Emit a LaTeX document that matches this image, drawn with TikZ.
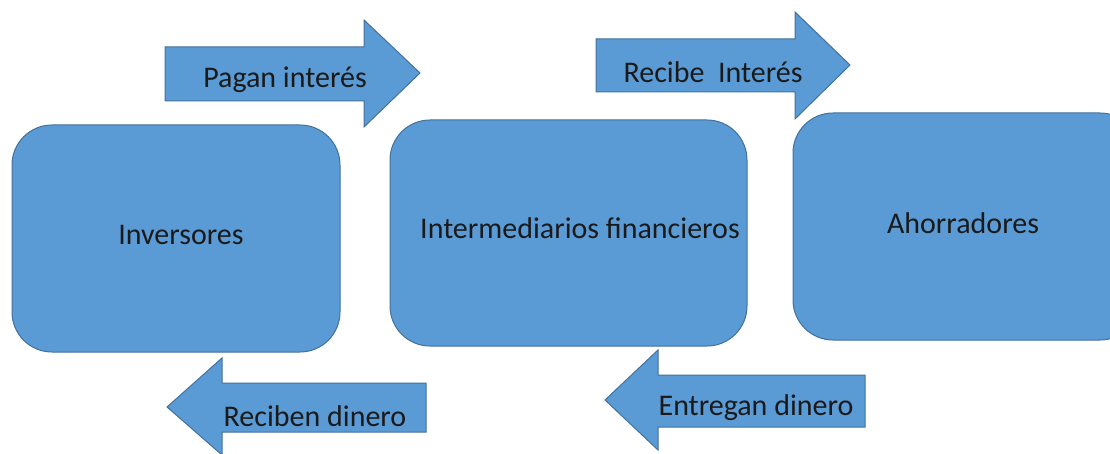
\documentclass[tikz,border=0pt]{standalone}
\usepackage{fontspec}
\setmainfont{Carlito}
\usepackage{xcolor}
\definecolor{cajaazul}{HTML}{5B9BD5}
\definecolor{bordeazul}{HTML}{41719C}
\definecolor{texto}{HTML}{1A1A1A}

\begin{document}
\begin{tikzpicture}[x=1pt,y=-1pt]
\tikzset{caja/.style={draw=bordeazul,fill=cajaazul,line width=1pt,rounded corners=40pt}}
\tikzset{flecha/.style={draw=bordeazul,fill=cajaazul,line width=1pt,line join=miter}}
\tikzset{etiqueta/.style={text=texto,font=\fontsize{30}{36}\selectfont,inner sep=0pt}}

\useasboundingbox (0,0) rectangle (1110,454);

% cajas
\draw[caja] (12,125) rectangle (340,352);
\draw[caja] (390,120) rectangle (747,346);
\draw[caja] (793,113) rectangle (1140,340);
\node[etiqueta] (inversores) at (181,235) {Inversores};
\node[etiqueta] (intermediarios) at (580,228) {Intermediarios financieros};
\node[etiqueta] (ahorradores) at (963,223) {Ahorradores};

% flechas de arriba
\draw[flecha] (165,47) -- (364,47) -- (364,20) -- (420,73) -- (364,127) -- (364,101) -- (165,101) -- cycle;
\draw[flecha] (596,39) -- (795,39) -- (795,12) -- (850,65) -- (795,119) -- (795,92) -- (596,92) -- cycle;
\node[etiqueta] (pagan) at (285,80) {Pagan interés};
\node[etiqueta] (recibe) at (713,72) {Recibe\ \ Interés};

% flechas de abajo
\draw[flecha] (426,383) -- (222,383) -- (222,358) -- (167,407) -- (222,455) -- (222,432) -- (426,432) -- cycle;
\draw[flecha] (865,375) -- (658,375) -- (658,350) -- (605,400) -- (658,450) -- (658,427) -- (865,427) -- cycle;
\node[etiqueta] (reciben) at (315,416) {Reciben dinero};
\node[etiqueta] (entregan) at (756,408) {Entregan dinero};

\end{tikzpicture}
\end{document}
